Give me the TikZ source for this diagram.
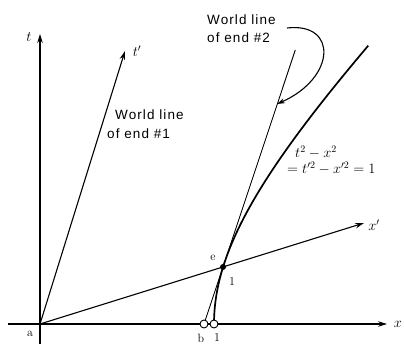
\documentclass[tikz,border=0pt]{standalone}
\usepackage{fontspec}
\newfontfamily\lab[LetterSpace=8]{Liberation Sans}
\usetikzlibrary{arrows.meta}
\begin{document}
\begin{tikzpicture}[x=1pt,y=-1pt,
  axis/.style={line width=1.1pt,-{Stealth[length=9pt,width=5.5pt]}},
  wl/.style={line width=0.9pt},
  hyp/.style={line width=1.7pt},
  lbl/.style={font=\fontsize{13.5}{15}\selectfont\lab, inner sep=0, anchor=west},
  mlbl/.style={font=\fontsize{14}{15}\selectfont, inner sep=0},
  slbl/.style={font=\fontsize{12}{13}\selectfont, inner sep=0},
  ring/.style={circle, draw, fill=white, line width=0.9pt, minimum size=8pt, inner sep=0},
  dot/.style={circle, fill, minimum size=6pt, inner sep=0},
  callout/.style={line width=1.1pt,-{Stealth[length=8pt,width=5pt]}}
]
\useasboundingbox (0,0) rectangle (404,344);
% key points
\coordinate (O) at (40,324);
\coordinate (tbot) at (40,344);
\coordinate (ttop) at (40,34);
\coordinate (xl) at (8,324);
\coordinate (xr) at (387,324);
\coordinate (tp) at (125,51);
\coordinate (xp) at (364,223);
\coordinate (e) at (223,267);
\coordinate (wtop) at (295.3,50);
\coordinate (bpt) at (204,324);
\coordinate (onept) at (214,324);
\coordinate (arrstart) at (287,28);
\coordinate (arrend) at (277,104);
% axes
\draw[line width=1.1pt] (tbot) -- (O);
\draw[axis] (O) -- (ttop);
\draw[line width=1.1pt] (xl) -- (O);
\draw[axis] (O) -- (xr);
\draw[axis] (O) -- (tp);
\draw[axis] (O) -- (xp);
% world line of end #2
\draw[wl] (bpt) -- (wtop);
% hyperbola
\draw[hyp] plot[domain=0:1.6, samples=80, variable=\t] ({40+174*sqrt(1+\t*\t)},{324-174*\t});
% markers
\node[ring] (b) at (bpt) {};
\node[ring] (one) at (onept) {};
\node[dot] (edot) at (e) {};
% callout arrow
\draw[callout] (arrstart) .. controls (338,22) and (336,78) .. (arrend);
% labels
\node[mlbl] (tlab) at (29,37) {$t$};
\node[mlbl] (tplab) at (137,51) {$t'$};
\node[mlbl] (xlab) at (398,324) {$x$};
\node[mlbl] (xplab) at (374,225) {$x'$};
\node[slbl] (alab) at (30,334) {a};
\node[slbl] (elab) at (213,258) {e};
\node[slbl] (e1lab) at (232,282) {1};
\node[slbl] (blab) at (201,338) {b};
\node[slbl] (onelab) at (217,338) {1};
\node[lbl] (w1a) at (115,115) {World line};
\node[lbl] (w1b) at (107,134) {of end \#1};
\node[lbl] (w2a) at (207,20) {World line};
\node[lbl] (w2b) at (207,38) {of end \#2};
\node[mlbl, anchor=west] (eq1) at (295,152) {$t^2 - x^2$};
\node[mlbl, anchor=west] (eq2) at (287,168) {$= t'^2 - x'^2 = 1$};
\end{tikzpicture}
\end{document}
